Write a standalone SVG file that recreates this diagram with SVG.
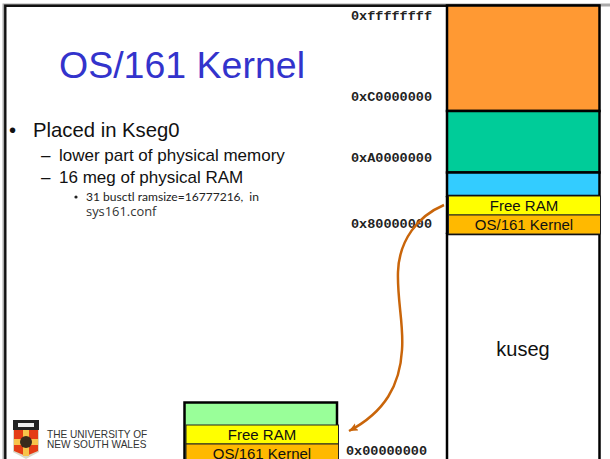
<svg xmlns="http://www.w3.org/2000/svg" width="610" height="459" viewBox="0 0 610 459">
<style>
.addr{font-family:"Liberation Mono",monospace;font-weight:bold;font-size:13.5px;fill:#222}
.s{font-family:"Liberation Sans",Arial,sans-serif;fill:#111}
.box{stroke:#000;stroke-width:2.5}
.thin{stroke:#222;stroke-width:1}
.lbl{font-family:"Liberation Sans",Arial,sans-serif;font-size:15px;fill:#111;text-anchor:middle}
</style>
<defs><marker id="ah" markerUnits="userSpaceOnUse" markerWidth="12" markerHeight="10" refX="9" refY="4" orient="auto"><path d="M0 0L9 4L0 8L2 4z" fill="#c9650a"/></marker></defs>
<rect width="610" height="459" fill="#fff"/>
<path d="M610 5H4V459" stroke="#aaa" stroke-width="3" fill="none"/>
<path d="M600 5.800H5.300V459" stroke="#111" stroke-width="2.400" fill="none"/>
<text class="s" x="59" y="78" font-size="37.500" style="fill:#3333cc">OS/161 Kernel</text>
<g id="bullets">
<text class="s" x="9" y="136.500" font-size="20.300">•</text>
<text class="s" x="33" y="136.500" font-size="20.300">Placed in Kseg0</text>
<text class="s" x="41" y="160.500" font-size="17">–</text>
<text class="s" x="59" y="160.500" font-size="17">lower part of physical memory</text>
<text class="s" x="41" y="183" font-size="17">–</text>
<text class="s" x="59" y="183" font-size="17">16 meg of physical RAM</text>
<circle cx="76" cy="197" r="1.600" fill="#222"/>
<text x="86" y="200.500" font-family="Lato,sans-serif" font-size="12.050" fill="#222">31 busctl ramsize=16777216,<tspan dx="6">in</tspan></text>
<text x="86" y="215.500" font-family="'Open Sans',sans-serif" font-size="12.900" fill="#333">sys161.conf</text>
</g>
<g id="addresses">
<text class="addr" x="351" y="20">0xffffffff</text>
<text class="addr" x="351" y="101">0xC0000000</text>
<text class="addr" x="351" y="162">0xA0000000</text>
<text class="addr" x="351" y="228">0x80000000</text>
<text class="addr" x="346" y="455">0x00000000</text>
</g>
<g id="memory-map">
<rect class="box" x="447" y="5.500" width="152.500" height="105.500" fill="#ff9933"/>
<rect class="box" x="447" y="111" width="152.500" height="61.500" fill="#00cc99"/>
<rect class="box" x="447" y="172.500" width="152.500" height="23.500" fill="#33ccff"/>
<rect class="box" x="447" y="234" width="152.500" height="227" fill="#fff"/>
<path d="M447 196V234" stroke="#000" stroke-width="2.500"/>
<text x="523" y="356" font-size="20" class="s" text-anchor="middle">kuseg</text>
</g>
<g id="free-ram-top"><rect class="thin" x="448.500" y="196" width="152" height="19" fill="#ffff00"/><text class="lbl" x="524" y="211">Free RAM</text></g>
<g id="kernel-top"><rect class="thin" x="448.500" y="215" width="152" height="19" fill="#ffb900"/><text class="lbl" x="524" y="230">OS/161 Kernel</text></g>
<g id="phys-ram"><rect class="box" x="184.500" y="402.500" width="152.500" height="60" fill="#99ff99"/></g>
<g id="free-ram-low"><rect class="thin" x="186" y="425" width="152.500" height="19" fill="#ffff00"/><text class="lbl" x="262" y="440">Free RAM</text></g>
<g id="kernel-low"><rect class="thin" x="186" y="444" width="152.500" height="19" fill="#ffb900"/><text class="lbl" x="262" y="458.500">OS/161 Kernel</text></g>
<g id="connectors">
<path d="M444 205C418 216 399 240 398 272C397 300 404 325 402 350C400 385 385 412 349 431" fill="none" stroke="#c9650a" stroke-width="2.500" marker-end="url(#ah)"/>
</g>
<g id="logo">
<path d="M13 420H39V452L26 459L13 452z" fill="#d8d8c8"/>
<rect x="13" y="420" width="26" height="10" fill="#222"/>
<rect x="18" y="423" width="16" height="4" fill="#eee"/>
<path d="M14 430H38V451L26 456L14 451z" fill="#e43c14"/>
<rect x="23" y="430" width="6" height="26" fill="#f7c34a"/>
<rect x="14" y="439" width="24" height="6" fill="#f7c34a"/>
<circle cx="26" cy="442" r="6" fill="#3a2a1c"/>
<text class="s" x="47" y="438" font-size="10.100" style="fill:#333">THE UNIVERSITY OF</text>
<text class="s" x="47" y="448" font-size="10.100" style="fill:#333">NEW SOUTH WALES</text>
</g>
</svg>
